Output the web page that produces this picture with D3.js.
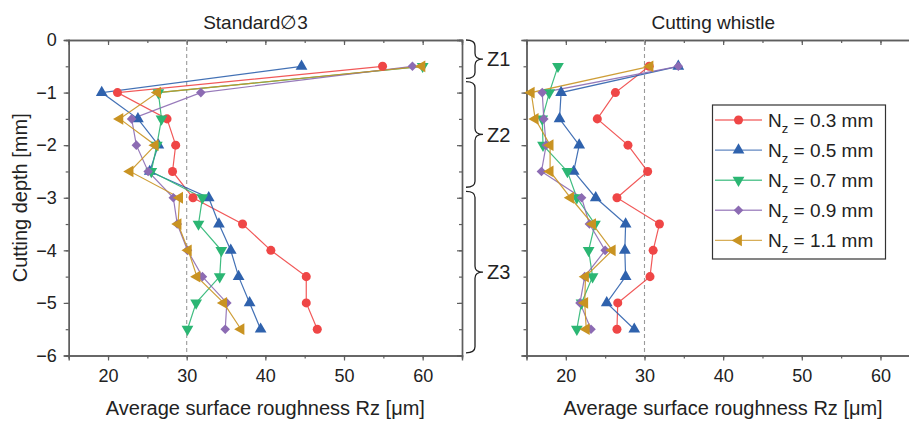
<!DOCTYPE html>
<html>
<head>
<meta charset="utf-8">
<script src="https://cdn.jsdelivr.net/npm/d3@7"></script>
<style>
  body { margin: 0; background: #fff; }
  text { font-family: "Liberation Sans", Arial, sans-serif; fill: #222; }
</style>
</head>
<body>
<div id="chart"></div>
<script>
'use strict'

// depth of each measurement (mm)
const depths = [-0.5, -1, -1.5, -2, -2.5, -3, -3.5, -4, -4.5, -5, -5.5]
const nzValues = ['0.3', '0.5', '0.7', '0.9', '1.1']

// Standard Ø3 – average Rz [µm] per depth
const std03 = [54.9, 21.2, 27.5, 28.6, 28.2, 30.8, 37.1, 40.7, 45.2, 45.2, 46.6]
const std05 = [44.6, 19.2, 23.8, 26.4, 25.3, 32.8, 34.1, 35.6, 36.6, 38.0, 39.4]
const std07 = [60.0, 26.4, 26.8, 26.2, 25.5, 32.0, 31.5, 34.4, 34.2, 31.2, 30.1]
const std09 = [58.7, 31.8, 23.0, 23.6, 25.1, 28.3, 28.8, 30.1, 32.0, 35.1, 34.9]
const std11 = [59.9, 26.3, 21.5, 26.0, 22.8, 29.1, 28.9, 30.2, 31.3, 34.7, 36.9]

// Cutting whistle – average Rz [µm] per depth
const cw03 = [30.6, 26.3, 24.0, 27.9, 30.4, 26.5, 31.9, 31.1, 30.7, 26.6, 26.5]
const cw05 = [34.3, 19.4, 19.2, 21.7, 21.0, 23.8, 27.6, 27.5, 27.6, 25.2, 28.7]
const cw07 = [19.0, 17.9, 17.0, 17.1, 20.2, 21.4, 23.7, 22.9, 23.4, 22.0, 21.4]
const cw09 = [34.3, 17.0, 17.2, 17.5, 16.9, 22.0, 23.0, 25.0, 22.4, 21.8, 23.2]
const cw11 = [30.7, 15.6, 16.1, 18.0, 18.0, 20.6, 23.4, 25.9, 22.5, 22.4, 22.6]

// zones marked with braces between the panels
const zoneNames = ['Z1', 'Z2', 'Z3']
const zoneTop = [0, -0.79, -2.88]
const zoneBottom = [-0.73, -2.8, -5.95]

const colors = ['#ef4646', '#2f62ad', '#2bb673', '#8c6bb3', '#c99322']
// symbol + rotation for each series
const shapes = [
  { type: d3.symbolCircle, size: 64, rot: 0 },
  { type: d3.symbolTriangle, size: 60, rot: 0 },
  { type: d3.symbolTriangle, size: 60, rot: 180 },
  { type: d3.symbolSquare, size: 46, rot: 45 },
  { type: d3.symbolTriangle, size: 60, rot: -90 }
]

const width = 909
const height = 423

const svg = d3.select('#chart')
  .append('svg')
    .attr('width', width)
    .attr('height', height)

const y = d3.scaleLinear().domain([0, -6]).range([40, 355.5])
const xLeft = d3.scaleLinear().domain([15, 65]).range([68.7, 462])
const xRight = d3.scaleLinear().domain([15, 65]).range([526.5, 919.8])

const axisColor = '#5e5e5e'

const styleAxis = g => {
  g.select('.domain').attr('stroke', axisColor).attr('stroke-width', 1.4)
  g.selectAll('.tick line').attr('stroke', axisColor).attr('stroke-width', 1.2)
  g.selectAll('.tick text').attr('fill', '#222').style('font-size', '18px')
}

const drawPanel = (x, series, title, showYLabels) => {
  const [x0, x1] = x.range()
  const [y0, y1] = y.range()
  const g = svg.append('g')

  // half-unit minor ticks first, majors on top
  const minorX = d3.range(15, 66, 5)
  const majorX = d3.range(20, 61, 10)
  const minorY = d3.range(0, -6.01, -0.5)
  const majorY = d3.range(0, -6.01, -1)

  // bottom
  g.append('g').attr('transform', `translate(0,${y1})`)
    .call(d3.axisBottom(x).tickValues(minorX).tickSize(3).tickFormat(''))
    .call(styleAxis)
  g.append('g').attr('transform', `translate(0,${y1})`)
    .call(d3.axisBottom(x).tickValues(majorX).tickSize(5).tickPadding(9).tickFormat(d3.format('d')))
    .call(styleAxis)
  // top (ticks point inward)
  g.append('g').attr('transform', `translate(0,${y0})`)
    .call(d3.axisTop(x).tickValues(minorX).tickSize(-3).tickFormat(''))
    .call(styleAxis)
  g.append('g').attr('transform', `translate(0,${y0})`)
    .call(d3.axisTop(x).tickValues(majorX).tickSize(-5).tickFormat(''))
    .call(styleAxis)
  // left
  g.append('g').attr('transform', `translate(${x0},0)`)
    .call(d3.axisLeft(y).tickValues(minorY).tickSize(3).tickFormat(''))
    .call(styleAxis)
  g.append('g').attr('transform', `translate(${x0},0)`)
    .call(d3.axisLeft(y).tickValues(majorY).tickSize(5).tickPadding(7)
      .tickFormat(showYLabels ? d3.format('d') : ''))
    .call(styleAxis)
  // right (ticks point inward)
  g.append('g').attr('transform', `translate(${x1},0)`)
    .call(d3.axisRight(y).tickValues(minorY).tickSize(-3).tickFormat(''))
    .call(styleAxis)
  g.append('g').attr('transform', `translate(${x1},0)`)
    .call(d3.axisRight(y).tickValues(majorY).tickSize(-5).tickFormat(''))
    .call(styleAxis)

  // reference line at Rz = 30
  g.append('line')
    .attr('x1', x(30)).attr('x2', x(30))
    .attr('y1', y0).attr('y2', y1)
    .attr('stroke', '#9a9a9a')
    .attr('stroke-width', 1.1)
    .attr('stroke-dasharray', '4,3')

  const line = d3.line()
    .x(d => x(d.rz))
    .y(d => y(d.depth))

  series.forEach((vals, i) => {
    const pts = vals.map((v, k) => ({ rz: v, depth: depths[k] }))
    g.append('path')
      .datum(pts)
      .attr('fill', 'none')
      .attr('stroke', colors[i])
      .attr('stroke-opacity', 0.9)
      .attr('stroke-width', 1.2)
      .attr('d', line)
  })
  series.forEach((vals, i) => {
    const pts = vals.map((v, k) => ({ rz: v, depth: depths[k] }))
    g.selectAll(null)
      .data(pts)
      .join('path')
        .attr('transform', d => `translate(${x(d.rz)},${y(d.depth)}) rotate(${shapes[i].rot})`)
        .attr('d', d3.symbol().type(shapes[i].type).size(shapes[i].size))
        .attr('fill', colors[i])
  })

  g.append('text')
    .attr('x', (x0 + x(63)) / 2 - 2)
    .attr('y', 29)
    .attr('text-anchor', 'middle')
    .style('font-size', '19px')
    .text(title)

  g.append('text')
    .attr('x', x(40))
    .attr('y', 415)
    .attr('text-anchor', 'middle')
    .style('font-size', '20px')
    .text('Average surface roughness Rz [μm]')
}

drawPanel(xLeft, [std03, std05, std07, std09, std11], 'Standard\u22053', true)
drawPanel(xRight, [cw03, cw05, cw07, cw09, cw11], 'Cutting whistle', false)

// y axis title
svg.append('text')
  .attr('transform', `translate(27,${y(-3)}) rotate(-90)`)
  .attr('text-anchor', 'middle')
  .style('font-size', '20px')
  .text('Cutting depth [mm]')

// zone braces
const braceX0 = 466
const braceX1 = 475
const braceTip = 483
const r = 6
zoneNames.forEach((name, i) => {
  const t = y(zoneTop[i])
  const b = y(zoneBottom[i])
  const m = (t + b) / 2
  const p = d3.path()
  p.moveTo(braceX0, t)
  p.quadraticCurveTo(braceX1, t, braceX1, t + r)
  p.lineTo(braceX1, m - r)
  p.quadraticCurveTo(braceX1, m, braceTip, m)
  p.quadraticCurveTo(braceX1, m, braceX1, m + r)
  p.lineTo(braceX1, b - r)
  p.quadraticCurveTo(braceX1, b, braceX0, b)
  svg.append('path')
    .attr('d', p.toString())
    .attr('fill', 'none')
    .attr('stroke', '#222')
    .attr('stroke-width', 1.3)
  svg.append('text')
    .attr('x', braceTip + 4)
    .attr('y', m)
    .attr('dy', '0.36em')
    .style('font-size', '20px')
    .text(name)
})

// legend
const lg = svg.append('g')
lg.append('rect')
  .attr('x', 712.5).attr('y', 105)
  .attr('width', 173).attr('height', 154)
  .attr('fill', '#fff')
  .attr('stroke', '#333')
  .attr('stroke-width', 1.2)

nzValues.forEach((v, i) => {
  const ly = 120 + i * 30.1
  lg.append('line')
    .attr('x1', 715).attr('x2', 762)
    .attr('y1', ly).attr('y2', ly)
    .attr('stroke', colors[i])
    .attr('stroke-opacity', 0.75)
    .attr('stroke-width', 1.4)
  lg.append('path')
    .attr('transform', `translate(738.5,${ly}) rotate(${shapes[i].rot})`)
    .attr('d', d3.symbol().type(shapes[i].type).size(shapes[i].size))
    .attr('fill', colors[i])
  const t = lg.append('text')
    .attr('x', 768)
    .attr('y', ly + 7)
    .style('font-size', '19px')
  t.append('tspan').text('N')
  t.append('tspan').attr('dy', 6).style('font-size', '13px').text('z')
  t.append('tspan').attr('dy', -6).text(` = ${v} mm`)
})
</script>
</body>
</html>
